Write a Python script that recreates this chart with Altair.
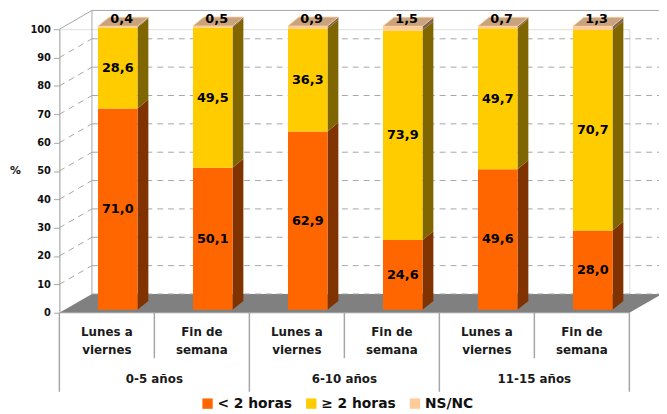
import altair as alt
import pandas as pd

# ---------------- data ----------------
categories = ["Lunes a|viernes", "Fin de|semana"] * 3
groups = ["0-5 años", "6-10 años", "11-15 años"]
series = ["< 2 horas", "≥ 2 horas", "NS/NC"]
lt2 = [71.0, 50.1, 62.9, 24.6, 49.6, 28.0]
ge2 = [28.6, 49.5, 36.3, 73.9, 49.7, 70.7]
nsnc = [0.4, 0.5, 0.9, 1.5, 0.7, 1.3]
y_ticks = list(range(0, 101, 10))

# ---------------- styling / geometry ----------------
front_colors = ["#FF6600", "#FFCC00", "#FFCC99"]
side_colors = ["#803300", "#806600", "#806650"]
top_color = "#C9A37D"
grid_color = "#A6A6A6"
FONT = "DejaVu Sans"

W, H = 577, 287
N = len(categories)
XU = N / W        # data units per pixel (x)
YU = 100 / H      # data units per pixel (y)
BAR_SHIFT = 11    # px, bar centre right of category centre
BAR_W = 40
SIDE_DX, SIDE_DY = 11, 9
DEPTH_DX, DEPTH_DY = 33, 19
LIFT = 3 * YU

xs = alt.Scale(domain=[0, N], nice=False, zero=False)
ys = alt.Scale(domain=[0, 100], nice=False)
yaxis = alt.Axis(values=y_ticks, title="%", titleAngle=0, titleX=-45, titleY=H / 2,
                 titleAlign="center", titleBaseline="middle", titleFont=FONT,
                 titleFontSize=11, titleFontWeight="bold", titleColor="#111",
                 labelFont=FONT, labelFontSize=10, labelFontWeight="bold",
                 labelColor="#111", labelPadding=3, tickSize=6, tickColor=grid_color,
                 domainColor=grid_color, grid=False)

# ---------------- derived tables ----------------
fronts, sides, tops, labels = [], [], [], []
for i in range(N):
    cx = i + 0.5
    xl = cx + (BAR_SHIFT - BAR_W / 2) * XU
    xr = cx + (BAR_SHIFT + BAR_W / 2) * XU
    base = 0.0
    vals = [lt2[i], ge2[i], nsnc[i]]
    for s, v in enumerate(vals):
        y0, y1 = base + LIFT, base + v + LIFT
        fronts.append(dict(x=xl, x2=xr, y=y0, y2=y1, serie=series[s]))
        k = f"{i}-{s}"
        sides.append(dict(x=xr, lo=y0, hi=y1, key=k, col=side_colors[s]))
        sides.append(dict(x=xr + SIDE_DX * XU, lo=y0 + SIDE_DY * YU,
                          hi=y1 + SIDE_DY * YU, key=k, col=side_colors[s]))
        txt = f"{v:.1f}".replace(".", ",")
        if s < 2:
            labels.append(dict(x=cx + BAR_SHIFT * XU, y=(y0 + y1) / 2, t=txt, top=0))
        else:
            labels.append(dict(x=cx + (BAR_SHIFT + 4) * XU, y=y1, t=txt, top=1))
        base += v
    t = base + LIFT
    dx, dy = SIDE_DX * XU, SIDE_DY * YU
    for (x, lo, hi) in [(xl, t, t), (xl + dx, t, t + dy), (xr, t, t + dy), (xr + dx, t + dy, t + dy)]:
        tops.append(dict(x=x, lo=lo, hi=hi, key=str(i)))

D, DY = DEPTH_DX * XU, DEPTH_DY * YU
floor = pd.DataFrame([dict(x=0, lo=0, hi=0), dict(x=D, lo=0, hi=DY),
                      dict(x=N, lo=0, hi=DY), dict(x=N + D, lo=DY, hi=DY)])
back = pd.DataFrame([dict(v=v, y=v + DY, x=D, x2=N + 2 * D) for v in y_ticks])
sidewall = pd.DataFrame([dict(v=v, x=0, y=v, x2=D, y2=v + DY) for v in y_ticks])
edges = pd.DataFrame([dict(x=D, y=DY, x2=D, y2=100 + DY)])

seps = pd.DataFrame([dict(x=float(j), grp=(j % 2 == 0)) for j in range(N + 1)])
cat_df = pd.DataFrame(dict(x=[i + 0.5 for i in range(N)], t=categories))
grp_df = pd.DataFrame(dict(x=[2 * g + 1.0 for g in range(len(groups))], t=groups))

X = lambda f="x": alt.X(f"{f}:Q", scale=xs, axis=None)
Y = lambda f="y": alt.Y(f"{f}:Q", scale=ys, axis=yaxis, stack=None)

# ---------------- layers ----------------
floor_l = alt.Chart(floor).mark_area(fill="#808080", opacity=1).encode(
    x=X(), y=Y("lo"), y2="hi:Q")

back_grid = alt.Chart(back).transform_filter("datum.v < 100").mark_rule(
    stroke=grid_color, strokeDash=[6, 5], strokeWidth=1).encode(x=X(), x2="x2:Q", y=Y())
back_top = alt.Chart(back).transform_filter("datum.v == 100").mark_rule(
    stroke=grid_color, strokeWidth=1).encode(x=X(), x2="x2:Q", y=Y())
side_grid = alt.Chart(sidewall).transform_filter("datum.v > 0 && datum.v < 100").mark_rule(
    stroke=grid_color, strokeDash=[6, 5], strokeWidth=1).encode(
    x=X(), x2="x2:Q", y=Y(), y2="y2:Q")
side_top = alt.Chart(sidewall).transform_filter("datum.v == 100").mark_rule(
    stroke=grid_color, strokeWidth=1).encode(x=X(), x2="x2:Q", y=Y(), y2="y2:Q")
wall_edge = alt.Chart(edges).mark_rule(stroke=grid_color, strokeWidth=1).encode(
    x=X(), x2="x2:Q", y=Y(), y2="y2:Q")

side_l = alt.Chart(pd.DataFrame(sides)).mark_area(opacity=1).encode(
    x=X(), y=Y("lo"), y2="hi:Q", detail="key:N",
    fill=alt.Fill("col:N", scale=None, legend=None))
top_l = alt.Chart(pd.DataFrame(tops)).mark_area(
    fill=top_color, opacity=1, stroke="#FFCC99", strokeWidth=0.8).encode(
    x=X(), y=Y("lo"), y2="hi:Q", detail="key:N")

front_l = alt.Chart(pd.DataFrame(fronts)).mark_bar(opacity=1).encode(
    x=X(), x2="x2:Q", y=Y(), y2="y2:Q",
    color=alt.Color("serie:N", sort=series,
                    scale=alt.Scale(domain=series, range=front_colors),
                    legend=alt.Legend(title=None, orient="none", direction="horizontal",
                                      legendX=143, legendY=372, symbolType="square",
                                      symbolSize=110, symbolStrokeWidth=0,
                                      labelFont=FONT, labelFontSize=14,
                                      labelFontWeight="bold", labelColor="#111",
                                      labelOffset=3, columnPadding=12)))

lab_df = pd.DataFrame(labels)
mid_lab = alt.Chart(lab_df).transform_filter("datum.top == 0").mark_text(
    font=FONT, fontSize=13, fontWeight="bold", fill="#000", baseline="middle").encode(
    x=X(), y=Y(), text="t:N")
top_lab = alt.Chart(lab_df).transform_filter("datum.top == 1").mark_text(
    font=FONT, fontSize=13, fontWeight="bold", fill="#000", baseline="middle", dy=-7).encode(
    x=X(), y=Y(), text="t:N")

sep_in = alt.Chart(seps).transform_filter("!datum.grp").mark_rule(
    stroke=grid_color, strokeWidth=1.5).encode(x=X(), y=alt.value(H), y2=alt.value(H + 46))
sep_grp = alt.Chart(seps).transform_filter("datum.grp").mark_rule(
    stroke=grid_color, strokeWidth=1.5).encode(x=X(), y=alt.value(H), y2=alt.value(H + 80))

cat_t = alt.Chart(cat_df).mark_text(
    font=FONT, fontSize=12, fontWeight="bold", fill="#1a1a1a", baseline="middle",
    lineBreak="|", lineHeight=18).encode(x=X(), y=alt.value(H + 20), text="t:N")
grp_t = alt.Chart(grp_df).mark_text(
    font=FONT, fontSize=12, fontWeight="bold", fill="#1a1a1a", baseline="middle").encode(
    x=X(), y=alt.value(H + 67), text="t:N")

chart = alt.layer(
    floor_l, back_grid, back_top, side_grid, side_top, wall_edge,
    side_l, top_l, front_l, mid_lab, top_lab, sep_in, sep_grp, cat_t, grp_t
).properties(
    width=W, height=H,
    padding={"left": 52, "top": 19, "right": 30, "bottom": 98},
    autosize=alt.AutoSizeParams(type="none"),
).configure_view(stroke=None).configure(background="white")

chart.save("out.html", embed_options={"renderer": "svg", "actions": False})
